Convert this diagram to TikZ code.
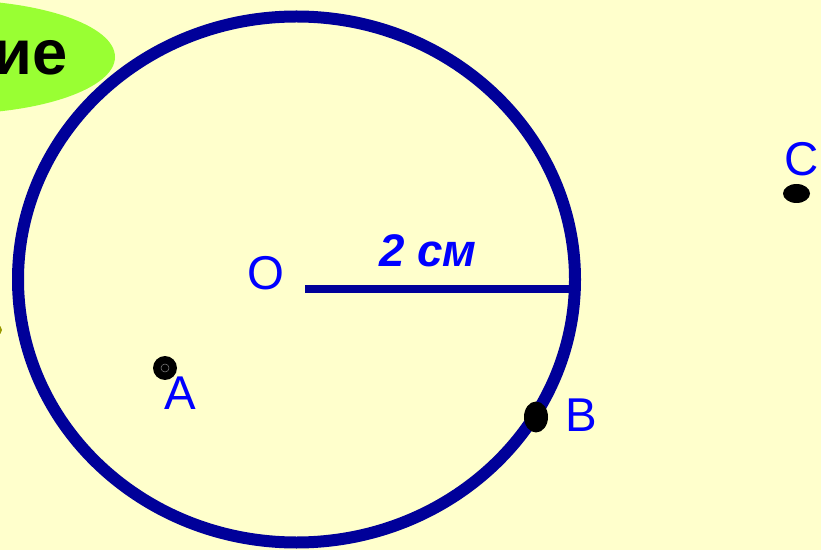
\documentclass[tikz,border=0pt]{standalone}
\usepackage{fontspec}
\setmainfont{Liberation Sans}
\usetikzlibrary{shapes.geometric}
\definecolor{paper}{HTML}{FFFFCC}
\definecolor{rimblue}{HTML}{000099}
\definecolor{lime}{HTML}{99FF33}
\definecolor{olivedot}{HTML}{999900}

\begin{document}
\begin{tikzpicture}[x=0.02cm, y=-0.02cm,
  lbl/.style={text=blue, font=\fontsize{27}{30}\selectfont, inner sep=0pt},
  dot/.style={ellipse, fill=black, inner sep=0pt},
  rim/.style={draw=rimblue, line width=0.24cm}
]
\useasboundingbox[fill=paper] (0,0) rectangle (821,550);
\clip (0,0) rectangle (821,550);
\fill[lime] (-50,57) ellipse [x radius=165, y radius=57];
\node[anchor=east, inner sep=0pt, font=\bfseries\fontsize{36}{40}\selectfont] (tag) at (68,57.5) {ие};
\fill[olivedot] (-3,330) circle [radius=5];
\draw[rim] (296.5,279.5) ellipse [x radius=278.5, y radius=263];
\coordinate (ctr) at (305,289);
\coordinate (rimR) at (575,289);
\draw[draw=rimblue, line width=0.15cm] (ctr) -- (rimR);
\node[lbl, font=\bfseries\itshape\fontsize{26}{30}\selectfont] (len) at (428,251) {2 см};
\node[lbl] (lblO) at (266,273) {O};
\node[dot, minimum width=0.48cm, minimum height=0.48cm] (dotA) at (165,368) {};
\draw[gray, line width=0.3pt] (dotA.center) circle [radius=4];
\node[lbl] (lblA) at (180,393) {A};
\node[dot, minimum width=0.48cm, minimum height=0.62cm] (dotB) at (536,417) {};
\node[lbl] (lblB) at (581,415) {B};
\node[dot, minimum width=0.54cm, minimum height=0.38cm] (dotC) at (796.5,193.5) {};
\node[lbl] (lblC) at (802,159) {C};
\end{tikzpicture}
\end{document}
